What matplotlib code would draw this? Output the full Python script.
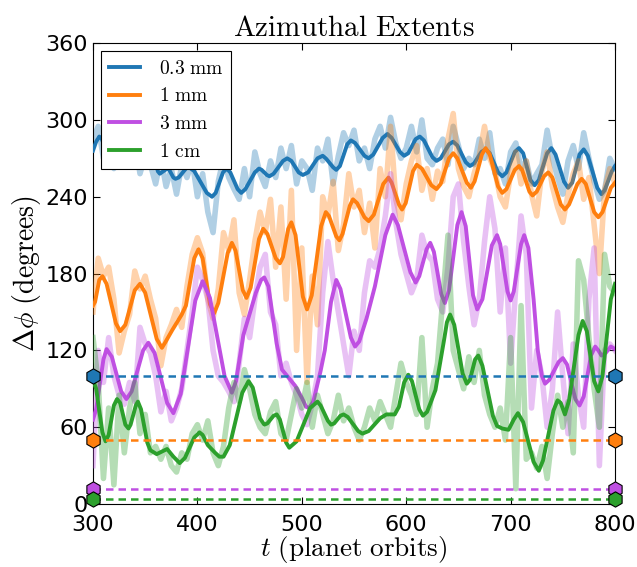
import numpy as np
import matplotlib
matplotlib.use('Agg')
import matplotlib.pyplot as plt

plt.rcParams['mathtext.fontset'] = 'cm'
plt.rcParams['xtick.direction'] = 'in'
plt.rcParams['ytick.direction'] = 'in'
plt.rcParams['xtick.top'] = True
plt.rcParams['ytick.right'] = True

labels = [r'$\mathrm{0.3\ mm}$', r'$\mathrm{1\ mm}$', r'$\mathrm{3\ mm}$', r'$\mathrm{1\ cm}$']
colors = ['#1f77b4', '#ff7f0e', '#bf4fe2', '#2ca02c']

# raw extents, sampled every 5 orbits
t_raw = np.arange(300, 801, 5)
blue_raw = [285, 295, 270, 280, 262, 290, 268, 275, 285, 258, 272, 265, 250, 270, 248, 262, 242, 265, 255, 268,
            240, 258, 228, 212, 252, 270, 255, 246, 238, 262, 240, 275, 258, 248, 268, 255, 278, 262, 280, 250,
            268, 262, 245, 278, 268, 285, 250, 272, 290, 280, 292, 268, 278, 262, 285, 295, 278, 302, 282, 270,
            278, 295, 275, 300, 270, 265, 278, 285, 265, 295, 280, 262, 270, 265, 285, 270, 290, 258, 262, 250,
            275, 282, 262, 268, 250, 258, 265, 292, 270, 255, 242, 268, 280, 262, 290, 270, 252, 238, 245, 270, 262]
orange_raw = [150, 192, 178, 185, 160, 118, 135, 148, 182, 168, 178, 160, 145, 108, 130, 140, 152, 138, 170, 195,
              208, 196, 160, 145, 168, 212, 198, 222, 165, 148, 175, 205, 228, 212, 238, 185, 232, 160, 245, 120,
              200, 95, 178, 140, 240, 225, 252, 198, 218, 258, 232, 245, 212, 235, 200, 262, 240, 295, 238, 222,
              250, 268, 280, 245, 262, 238, 260, 252, 285, 305, 262, 248, 240, 258, 272, 295, 270, 260, 240, 232,
              258, 275, 250, 268, 242, 225, 260, 275, 248, 232, 220, 242, 258, 268, 238, 255, 218, 180, 245, 262, 250]
purple_raw = [30, 120, 95, 130, 100, 85, 78, 95, 80, 138, 125, 118, 100, 72, 88, 65, 75, 90, 120, 150,
              185, 175, 160, 120, 100, 95, 88, 80, 110, 145, 130, 160, 185, 195, 150, 140, 100, 110, 95, 85,
              70, 62, 78, 100, 165, 205, 175, 150, 125, 100, 135, 120, 165, 190, 185, 200, 225, 258, 220, 195,
              180, 165, 175, 210, 195, 190, 160, 150, 185, 240, 250, 205, 170, 140, 160, 205, 240, 215, 150, 200,
              110, 170, 225, 195, 75, 120, 100, 60, 90, 150, 100, 55, 125, 85, 60, 160, 200, 30, 120, 125, 120]
green_raw = [130, 95, 20, 75, 15, 85, 40, 75, 95, 55, 70, 40, 45, 35, 45, 30, 25, 40, 35, 55,
             62, 50, 65, 40, 30, 45, 75, 95, 80, 105, 90, 70, 60, 55, 72, 80, 55, 50, 70, 90,
             75, 95, 60, 85, 70, 55, 65, 85, 65, 75, 60, 50, 60, 75, 65, 80, 70, 60, 85, 110,
             95, 85, 70, 130, 60, 90, 110, 160, 210, 120, 105, 90, 115, 95, 120, 85, 70, 60, 75, 50,
             130, 12, 155, 35, 40, 28, 45, 20, 55, 85, 60, 80, 40, 190, 175, 130, 90, 60, 195, 170, 165]

# smoothed extents
blue_t = [300, 303, 306, 308.5, 313.5, 316, 318, 322, 324, 326, 330, 332, 334, 338, 340, 342, 346, 348, 350, 354,
          356, 358, 362, 364, 371, 373, 377, 379, 382, 389, 392, 397, 409, 414, 417.5, 424.5, 428, 431.5, 438.5, 442,
          446, 455, 459, 461.5, 466.5, 469, 473, 482, 486, 490, 497, 501, 506, 515, 520, 523, 530, 533, 536.5, 543.5,
          547, 551, 560, 564, 568.5, 577.5, 582, 586, 594, 598, 602, 609, 613, 617, 625, 629, 633, 641, 645, 649,
          657, 661, 665, 672, 676, 680, 688, 692, 696, 704, 708, 712, 719, 723, 727, 735, 739, 743, 751, 755,
          759, 766, 770, 774, 783, 787, 790, 797, 800]
blue_s = [276, 283, 287, 285, 274, 272, 274, 284, 286, 284, 272, 270, 272, 280, 282, 280, 268, 266, 267, 273,
          274, 272, 260, 258, 262, 261, 255, 254, 255, 262, 263, 260, 243, 240, 243, 259, 262, 259, 246, 243,
          246, 259, 262, 261, 257, 256, 258, 268, 270, 268, 259, 257, 259, 270, 272, 270, 263, 261, 264, 281,
          284, 282, 272, 270, 273, 286, 289, 286, 275, 272, 274, 285, 287, 284, 271, 268, 270, 281, 283, 280,
          267, 264, 266, 275, 277, 274, 259, 256, 259, 275, 278, 274, 253, 249, 253, 274, 278, 273, 252, 247,
          251, 273, 277, 272, 247, 242, 245, 260, 264]
orange_t = [300, 302, 306, 309, 313, 322, 326, 331, 340, 345, 350, 361, 366, 369, 376, 379, 385, 389, 397, 401,
            405, 412, 416, 420, 429, 433, 436.5, 443.5, 447, 451, 459, 463, 467, 475, 479, 482, 487, 490, 494, 501,
            505, 509.5, 518.5, 523, 526, 533, 536, 539, 546, 549, 553, 560, 564, 569, 578, 583, 586, 593, 596, 599.5,
            606.5, 610, 615, 624, 629, 633, 641, 645, 649, 658, 662, 665.5, 672.5, 676, 680, 688, 692, 696, 704, 708,
            711, 718, 721, 725, 732, 736, 740, 748, 752, 756, 764, 768, 772, 780, 784, 788, 796, 800]
orange_s = [155, 158, 175, 178, 172, 141, 135, 140, 167, 172, 165, 129, 122, 126, 136, 140, 148, 155, 192, 199,
            192, 156, 149, 157, 196, 204, 198, 167, 161, 169, 207, 215, 211, 192, 188, 193, 215, 220, 210, 162,
            152, 163, 217, 228, 225, 209, 206, 211, 233, 238, 235, 224, 221, 226, 250, 255, 251, 234, 230, 235,
            260, 265, 262, 249, 246, 250, 270, 274, 270, 251, 247, 252, 273, 278, 273, 248, 243, 246, 261, 264,
            261, 244, 241, 244, 256, 259, 255, 234, 230, 234, 250, 254, 250, 228, 224, 228, 247, 251]
purple_t = [300, 303, 310, 313, 318, 327, 332, 337, 348, 353, 359, 371, 377, 384, 398, 405, 412, 426, 433, 437,
            444, 448, 456, 461, 464, 468, 476, 481, 494, 500, 504, 507, 511, 518, 522, 528, 533, 537, 547, 551,
            555, 562, 570, 580, 587, 592, 604, 609, 612.5, 619.5, 623, 626.5, 633.5, 637, 641, 649, 653, 657, 664, 668,
            673, 682, 687, 690, 697, 700, 703, 710, 713, 717, 722, 726, 730, 733, 737, 746, 750, 754, 762, 766,
            770, 777, 781, 784, 787, 791, 796, 800]
purple_s = [66, 74, 113, 121, 115, 88, 82, 88, 120, 126, 118, 79, 71, 86, 159, 174, 161, 100, 87, 96,
            132, 143, 165, 175, 177, 170, 125, 105, 92, 83, 76, 75, 80, 104, 120, 158, 175, 168, 130, 123,
            127, 145, 170, 210, 226, 218, 181, 173, 178, 199, 204, 197, 164, 157, 167, 218, 228, 217, 163, 152,
            160, 202, 210, 203, 166, 159, 166, 203, 210, 200, 160, 120, 100, 94, 97, 111, 114, 109, 82, 77,
            84, 116, 123, 120, 116, 118, 123, 121]
green_t = [300, 303, 309, 312, 315, 320, 323, 326, 331, 334, 336, 341, 343, 346, 352, 355, 361, 366, 371, 377,
           383, 388, 397, 402, 405, 410, 417, 421, 425, 431, 443, 449, 453, 460, 464, 467, 473, 476, 479, 485,
           488, 495, 508, 515, 518, 525, 528, 531, 537, 540, 544, 554, 558, 564, 575, 581, 589, 593, 598, 602,
           605.5, 612.5, 616, 620, 628, 636, 639, 642, 646, 654, 658, 661, 666, 669, 673, 683, 687, 692, 698, 703,
           707, 712, 722, 727, 731, 741, 745, 748, 752, 756, 765, 769, 773, 780, 784, 788, 796, 800]
green_s = [97, 90, 56, 49, 54, 77, 82, 79, 62, 59, 62, 77, 80, 74, 48, 42, 39, 41, 43, 37,
           32, 36, 52, 56, 54, 46, 40, 37, 37, 46, 87, 96, 91, 67, 62, 63, 69, 70, 66, 48,
           44, 49, 75, 80, 77, 65, 62, 63, 69, 70, 68, 57, 55, 57, 67, 70, 70, 76, 95, 101,
           96, 74, 69, 72, 89, 127, 142, 148, 140, 102, 94, 97, 113, 116, 108, 69, 61, 59, 58, 66,
           71, 64, 33, 26, 34, 73, 81, 79, 70, 81, 132, 143, 135, 96, 88, 100, 160, 172]

# reference extents
ref_levels = [100, 50, 12, 4]

fig = plt.figure(figsize=(6.37, 5.67), dpi=100)
ax = fig.add_axes([0.146, 0.111, 0.8195, 0.813])

raws = [blue_raw, orange_raw, purple_raw, green_raw]
smooth = [(blue_t, blue_s), (orange_t, orange_s), (purple_t, purple_s), (green_t, green_s)]
for i in range(4):
    ax.plot(t_raw, raws[i], color=colors[i], lw=4, alpha=0.35, zorder=2 + 2 * i)
    ax.plot(smooth[i][0], smooth[i][1], color=colors[i], lw=2.8, label=labels[i], zorder=3 + 2 * i,
            solid_joinstyle='round')

for i in range(4):
    ax.plot([300, 800], [ref_levels[i], ref_levels[i]], color=colors[i], lw=1.8,
            linestyle=(0, (3, 2)), zorder=12)
    ax.plot([300, 800], [ref_levels[i], ref_levels[i]], linestyle='none', marker='h', markersize=11,
            markerfacecolor=colors[i], markeredgecolor='black', markeredgewidth=0.8, clip_on=False, zorder=13)

ax.set_xlim(300, 800)
ax.set_ylim(0, 360)
ax.set_xticks(np.arange(300, 801, 100))
ax.set_yticks(np.arange(0, 361, 60))
ax.tick_params(labelsize=16, length=5, width=0.8)
ax.tick_params(axis='x', pad=8)

ax.set_title(r'$\mathrm{Azimuthal\ Extents}$', fontsize=21, pad=5)
ax.set_xlabel(r'$t\ \mathrm{(planet\ orbits)}$', fontsize=19.5, labelpad=-1)
ax.set_ylabel(r'$\Delta\phi\ \mathrm{(degrees)}$', fontsize=20, labelpad=2)

leg = ax.legend(loc='upper left', fontsize=14, handlelength=1.6, handletextpad=1.0, labelspacing=0.45,
                borderaxespad=0.4, fancybox=False, framealpha=1, edgecolor='black')
leg.get_frame().set_linewidth(0.8)

fig.savefig('out.png', dpi=100)
